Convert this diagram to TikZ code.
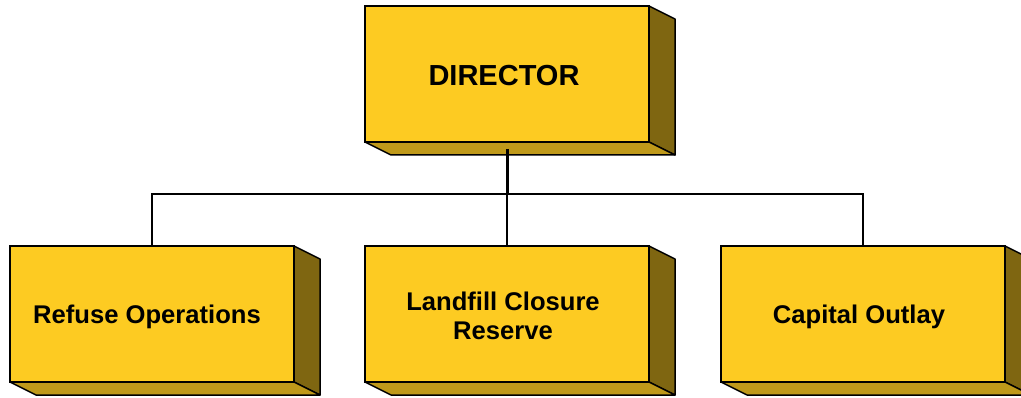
\documentclass[tikz,border=0pt]{standalone}
\usepackage{fontspec}
\setmainfont{Liberation Sans}
\begin{document}
\definecolor{facegold}{RGB}{253,203,34}
\definecolor{basegold}{RGB}{191,153,26}
\definecolor{sidegold}{RGB}{127,102,17}
\tikzset{
  front/.style={draw=black, line width=1.8pt, fill=facegold, minimum width=284pt,
    minimum height=136pt, inner sep=0pt, outer sep=0pt},
  face/.style={draw=black, line width=1.5pt, line join=round},
  label/.style={font=\bfseries\fontsize{25.6}{29.5}\selectfont, align=center, inner sep=0pt},
  toplabel/.style={font=\bfseries\fontsize{29}{33}\selectfont, inner sep=0pt},
  link/.style={draw=black, line width=1.5pt},
  trunk/.style={draw=black, line width=3pt}
}
% slab: name, centre; the side and base faces are extruded 26 right, 13 down
\newcommand\slab[2]{%
  \node[front] (#1) at (#2) {};
  \filldraw[face, fill=sidegold] (#1.north east) -- ++(26,13) -- ++(0,136) -- (#1.south east) -- cycle;
  \filldraw[face, fill=basegold] (#1.south west) -- ++(26,13) -- ++(284,0) -- (#1.south east) -- cycle;
  \draw[line width=1.8pt] (#1.north west) rectangle (#1.south east);
}
\begin{tikzpicture}[x=1pt, y=-1pt]
  \useasboundingbox (0,0) rectangle (1021,398);
  \clip (0,0) rectangle (1021,398);

  \slab{director}{507,74}
  \slab{refuse}{152,314}
  \slab{landfill}{507,314}
  \slab{capital}{863,314}

  \node[toplabel] (director-text) at (504,76) {DIRECTOR};
  \node[label] (refuse-text) at (147,317) {Refuse Operations};
  \node[label] (landfill-text) at (503,316) {Landfill Closure\\Reserve};
  \node[label] (capital-text) at (859,317) {Capital Outlay};

  % organisation lines
  \coordinate (bus) at (507,194);
  \draw[trunk] ([yshift=-7pt]director.south) -- (bus);
  \draw[link] (refuse.north) |- (bus) -| (capital.north);
  \draw[link] (bus) -- (landfill.north);
\end{tikzpicture}
\end{document}
